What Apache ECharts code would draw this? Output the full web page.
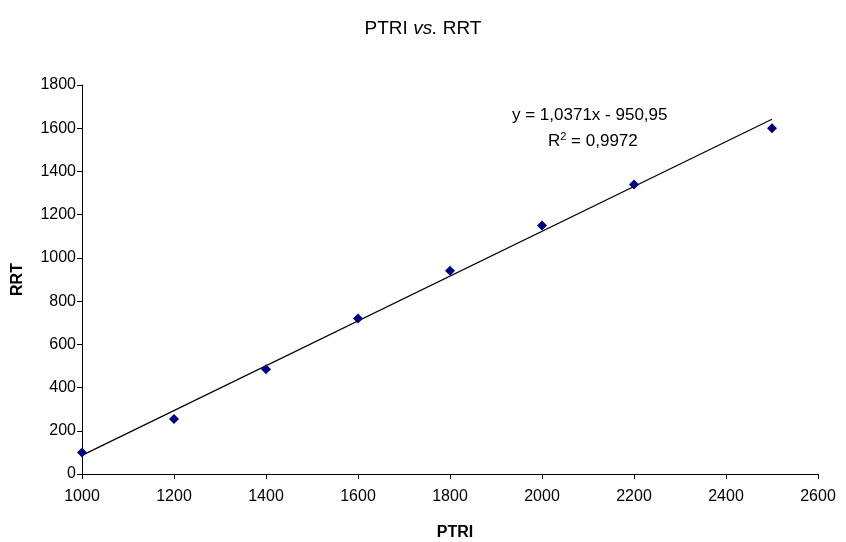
<!DOCTYPE html>
<html><head><meta charset="utf-8">
<script src="https://cdn.jsdelivr.net/npm/echarts@6/dist/echarts.min.js"></script>
<style>html,body{margin:0;padding:0;background:#fff}#c{width:846px;height:542px}</style>
</head><body><div id="c"></div>
<script>
var ptri = [1000, 1200, 1400, 1600, 1800, 2000, 2200, 2500];
var rrt = [100, 255, 485, 720, 940, 1150, 1340, 1600];
var slope = 1.0371, intercept = -950.95;
var trendX = [1000, 2500];
var eqText = 'y = 1,0371x - 950,95';
var r2Text = '0,9972';

var pts = ptri.map(function (x, i) { return [x, rrt[i]]; });
var trend = trendX.map(function (x) { return [x, slope * x + intercept]; });
var F = '"Liberation Sans", Arial, sans-serif';
var chart = echarts.init(document.getElementById('c'));
chart.setOption({
  backgroundColor: '#fff',
  animation: false,
  title: {
    text: '{a|PTRI }{b|vs.}{a| RRT}', left: 'center', top: 14,
    textStyle: { rich: {
      a: { fontFamily: F, fontSize: 19, color: '#000', fontWeight: 'normal' },
      b: { fontFamily: F, fontSize: 19, color: '#000', fontStyle: 'italic', fontWeight: 'normal' }
    } }
  },
  grid: { left: 82, right: 28, top: 85, bottom: 68, containLabel: false, outerBoundsMode: 'none' },
  xAxis: {
    type: 'value', min: 1000, max: 2600, interval: 200,
    name: 'PTRI', nameLocation: 'middle', nameGap: 51,
    nameTextStyle: { fontFamily: F, fontSize: 16, fontWeight: 'bold', color: '#000', padding: [0, 0, 0, 10] },
    axisLine: { lineStyle: { color: '#000', width: 1 } },
    axisTick: { show: true, length: 5, lineStyle: { color: '#000' } },
    axisLabel: { fontFamily: F, fontSize: 16, color: '#000', margin: 15, formatter: function (v) { return String(v); } },
    splitLine: { show: false }
  },
  yAxis: {
    type: 'value', min: 0, max: 1800, interval: 200,
    name: 'RRT', nameLocation: 'middle', nameGap: 56, nameRotate: 90,
    nameTextStyle: { fontFamily: F, fontSize: 16, fontWeight: 'bold', color: '#000' },
    axisLine: { show: true, lineStyle: { color: '#000', width: 1 } },
    axisTick: { show: true, length: 5, lineStyle: { color: '#000' } },
    axisLabel: { fontFamily: F, fontSize: 16, color: '#000', margin: 6, formatter: function (v) { return String(v); } },
    splitLine: { show: false }
  },
  series: [
    { type: 'line', data: trend, showSymbol: false, symbol: 'none',
      lineStyle: { color: '#000', width: 1.2 }, z: 1, silent: true },
    { type: 'scatter', data: pts, symbol: 'diamond', symbolSize: 10,
      itemStyle: { color: '#000080', opacity: 1 }, z: 2 }
  ],
  graphic: [
    { type: 'text', left: 512, top: 107, style: { text: eqText, font: '17px ' + F, fill: '#000' } },
    { type: 'text', left: 548, top: 131, style: {
      text: '{r|R}{s|2}{r| = ' + r2Text + '}',
      rich: {
        r: { font: '17px ' + F, fill: '#000', verticalAlign: 'bottom' },
        s: { font: '11px ' + F, fill: '#000', verticalAlign: 'top', padding: [0, 0, 8, 0] }
      } } }
  ]
});
</script></body></html>
